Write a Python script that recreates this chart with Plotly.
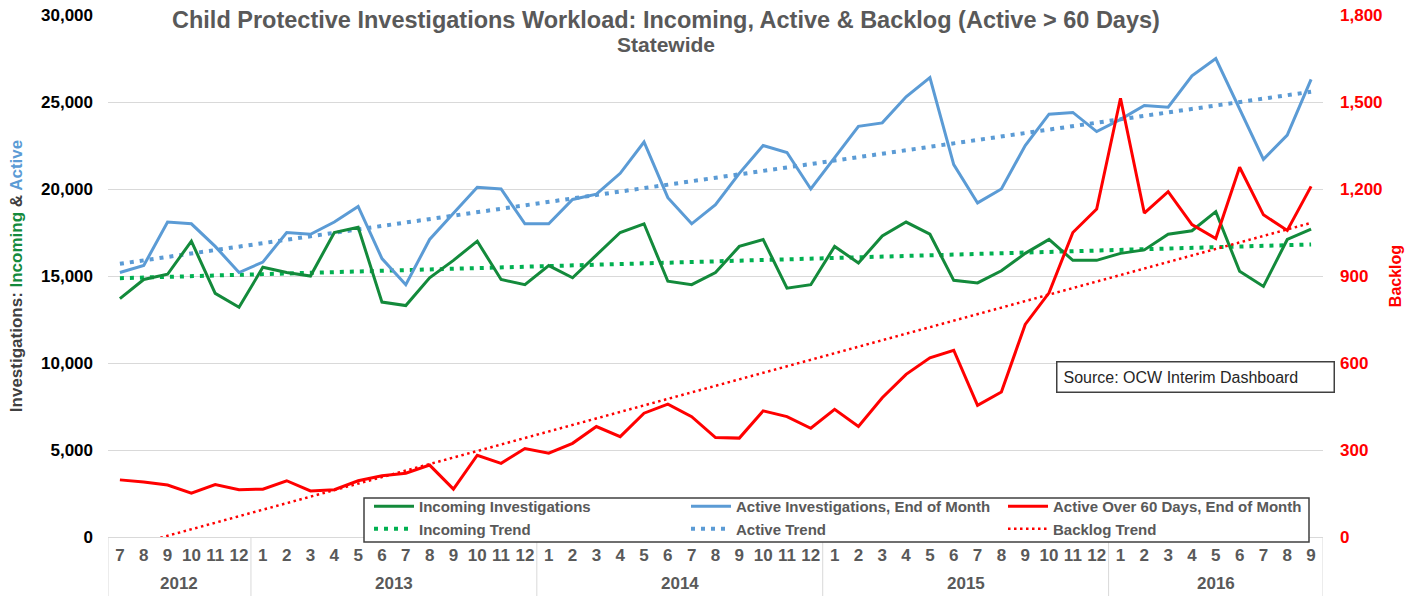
import numpy as np
import plotly.graph_objects as go

# ---------------- data ----------------
year_groups = ["2012", "2013", "2014", "2015", "2016"]
months_2012 = ["7", "8", "9", "10", "11", "12"]
months_full = ["1", "2", "3", "4", "5", "6", "7", "8", "9", "10", "11", "12"]
months_2016 = ["1", "2", "3", "4", "5", "6", "7", "8", "9"]

incoming = [13700, 14800, 15100, 17000, 14000, 13200,
            15500, 15200, 15000, 17500, 17800, 13500, 13300, 14900, 15900, 17000, 14800, 14500,
            15600, 14900, 16200, 17500, 18000, 14700, 14500, 15200, 16700, 17100, 14300, 14500,
            16700, 15750, 17300, 18100, 17400, 14750, 14600, 15300, 16300, 17100, 15900, 15900,
            16300, 16500, 17400, 17600, 18700, 15270, 14400, 17100, 17700]

active = [15200, 15600, 18100, 18000, 16700, 15200,
          15800, 17500, 17400, 18100, 19000, 16000, 14500, 17100, 18600, 20100, 20000, 18000,
          18000, 19400, 19700, 20900, 22700, 19500, 18000, 19100, 20900, 22500, 22100, 20000,
          21800, 23600, 23800, 25300, 26400, 21400, 19200, 20000, 22500, 24300, 24400, 23300,
          24000, 24800, 24700, 26500, 27500, 24600, 21700, 23100, 26300]

backlog = [197, 190, 179, 151, 181, 163,
           165, 194, 159, 163, 194, 211, 220, 248, 165, 282, 254, 305,
           289, 323, 381, 346, 427, 458, 415, 343, 341, 435, 415, 375,
           440, 381, 480, 561, 618, 644, 454, 500, 733, 842, 1050, 1131,
           1513, 1117, 1191, 1077, 1029, 1275, 1111, 1057, 1209]

month_lists = [months_2012, months_full, months_full, months_full, months_2016]
month_labels = [m for ms in month_lists for m in ms]
idx = np.arange(len(month_labels))


def trend(vals):
    k, b = np.polyfit(idx, np.array(vals, dtype=float), 1)
    return (k * idx + b).tolist()


GREEN = "#138A3B"
GREEN_T = "#00B050"
BLUE = "#5B9BD5"
RED = "#FF0000"
GRAY = "#595959"

x = idx.tolist()
fig = go.Figure()
fig.add_trace(go.Scatter(x=x, y=trend(incoming), mode="lines", name="Incoming Trend",
                         line=dict(color=GREEN_T, width=4, dash="4px,6px"), legendrank=4))
fig.add_trace(go.Scatter(x=x, y=trend(active), mode="lines", name="Active Trend",
                         line=dict(color=BLUE, width=4, dash="4px,6px"), legendrank=5))
fig.add_trace(go.Scatter(x=x, y=incoming, mode="lines", name="Incoming Investigations",
                         line=dict(color=GREEN, width=3), legendrank=1))
fig.add_trace(go.Scatter(x=x, y=active, mode="lines", name="Active Investigations, End of Month",
                         line=dict(color=BLUE, width=3), legendrank=2))
fig.add_trace(go.Scatter(x=x, y=trend(backlog), mode="lines", name="Backlog Trend",
                         line=dict(color=RED, width=2.5, dash="2.5px,3.5px"), yaxis="y2", legendrank=6))
fig.add_trace(go.Scatter(x=x, y=backlog, mode="lines", name="Active Over 60 Days, End of Month",
                         line=dict(color=RED, width=3), yaxis="y2", legendrank=3))

L, R, T, B = 108, 97, 15, 59
W, H = 1420, 596
pw, ph = W - L - R, H - T - B


def px_x(px):
    return (px - L) / pw


def px_y(py):
    return (H - B - py) / ph


# year group labels and dividers on the category axis
shapes, annotations = [], []
start = 0
bounds = [-0.5]
for y, ms in zip(year_groups, month_lists):
    end = start + len(ms)
    annotations.append(dict(text=y, xref="x", yref="paper", x=(start + end - 1) / 2, y=px_y(583),
                            xanchor="center", yanchor="middle", showarrow=False,
                            font=dict(size=17, color=GRAY, weight="bold")))
    bounds.append(end - 0.5)
    start = end
for b in bounds:
    shapes.append(dict(type="line", xref="x", yref="paper", x0=b, x1=b, y0=0, y1=px_y(600),
                       line=dict(color="#d9d9d9", width=1)))

# legend frame
shapes.append(dict(type="rect", xref="paper", yref="paper", layer="above",
                   x0=px_x(364), x1=px_x(1309), y0=px_y(542), y1=px_y(498),
                   fillcolor="white", line=dict(color="#404040", width=1.5)))

annotations += [
    dict(text="Child Protective Investigations Workload: Incoming, Active &amp; Backlog (Active &gt; 60 Days)",
         xref="paper", yref="paper", x=px_x(666), y=px_y(20), xanchor="center", yanchor="middle",
         showarrow=False, bgcolor="white", borderpad=1,
         font=dict(size=23.5, color=GRAY, weight="bold")),
    dict(text="Statewide", xref="paper", yref="paper", x=px_x(666), y=px_y(44.5),
         xanchor="center", yanchor="middle", showarrow=False,
         font=dict(size=21, color=GRAY, weight="bold")),
    dict(text="Source: OCW Interim Dashboard", xref="paper", yref="paper",
         x=px_x(1055.5), y=px_y(377.3), xanchor="left", yanchor="middle", showarrow=False,
         bgcolor="white", bordercolor="#404040", borderwidth=1.5, borderpad=6,
         width=264, align="left", font=dict(size=16, color="#262626")),
]

fig.update_layout(
    width=W, height=H,
    margin=dict(l=L, r=R, t=T, b=B, autoexpand=False),
    paper_bgcolor="white", plot_bgcolor="white",
    font=dict(family="Arial, Liberation Sans, sans-serif", color=GRAY),
    showlegend=True,
    legend=dict(orientation="h", x=px_x(369), y=px_y(490), xanchor="left", yanchor="top",
                bgcolor="rgba(0,0,0,0)", borderwidth=0,
                font=dict(size=15, color=GRAY, weight="bold"),
                entrywidth=262, itemwidth=40, tracegroupgap=0, traceorder="normal"),
    xaxis=dict(range=[-0.5, len(month_labels) - 0.5], tickmode="array", tickvals=x,
               ticktext=month_labels, tickangle=0, showgrid=False, zeroline=False,
               showline=True, linecolor="#d9d9d9", linewidth=1, ticks="",
               ticklabelstandoff=3, tickfont=dict(size=17, color=GRAY, weight="bold")),
    yaxis=dict(range=[0, 30000], dtick=5000, tickformat=",", showgrid=True,
               gridcolor="#d9d9d9", gridwidth=1, zeroline=False, showline=False,
               ticks="", ticklabelstandoff=14,
               tickfont=dict(size=17, color="#000000", weight="bold"),
               title=dict(text="Investigations: <span style='color:%s'>Incoming</span> &amp; "
                               "<span style='color:%s'>Active</span>" % (GREEN, BLUE),
                          font=dict(size=17, color="#404040", weight="bold"), standoff=14)),
    yaxis2=dict(range=[0, 1800], dtick=300, tickformat=",", overlaying="y", side="right",
                showgrid=False, zeroline=False, showline=False, ticks="", ticklabelstandoff=16,
                tickfont=dict(size=17, color=RED, weight="bold"),
                title=dict(text="Backlog", font=dict(size=16, color=RED, weight="bold"), standoff=8)),
    shapes=shapes,
    annotations=annotations,
)

fig.write_html("out.html", config={"displayModeBar": False},
               post_script="document.body.style.margin='0';")
